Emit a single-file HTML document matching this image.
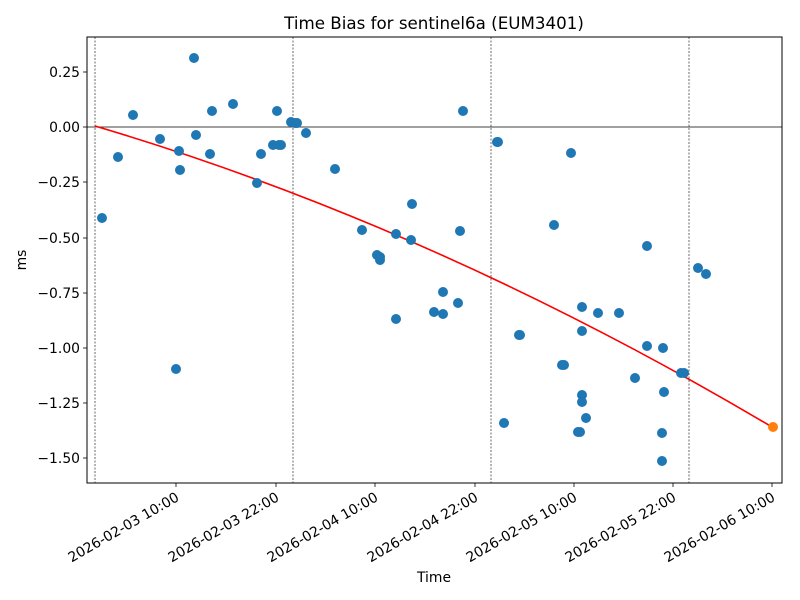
<!DOCTYPE html>
<html><head><meta charset="utf-8"><style>body{margin:0;background:#fff}svg{display:block;font-family:"DejaVu Sans","Liberation Sans",sans-serif}</style></head>
<body>
<svg width="800" height="600" viewBox="0 0 800 600" xmlns="http://www.w3.org/2000/svg">
<rect width="800" height="600" fill="#fff"/>
<text x="434" y="29" font-size="16.7" text-anchor="middle">Time Bias for sentinel6a (EUM3401)</text>
<g stroke="#444" stroke-width="0.8" stroke-dasharray="2,1.5">
<line x1="95" y1="37" x2="95" y2="483"/><line x1="293" y1="37" x2="293" y2="483"/><line x1="491" y1="37" x2="491" y2="483"/><line x1="689" y1="37" x2="689" y2="483"/>
</g>
<line x1="87" y1="127" x2="782" y2="127" stroke="#000" stroke-width="0.8"/>
<path fill="none" stroke="#f00" stroke-width="1.6" d="M95,126 Q433,226 772,427"/>
<g fill="#1f77b4">
<circle cx="102" cy="218" r="5"/><circle cx="118" cy="157" r="5"/><circle cx="133" cy="115" r="5"/><circle cx="160" cy="139" r="5"/><circle cx="176" cy="369" r="5"/><circle cx="179" cy="151" r="5"/><circle cx="180" cy="170" r="5"/><circle cx="194" cy="58" r="5"/><circle cx="196" cy="135" r="5"/><circle cx="210" cy="154" r="5"/><circle cx="212" cy="111" r="5"/><circle cx="233" cy="104" r="5"/><circle cx="257" cy="183" r="5"/><circle cx="261" cy="154" r="5"/><circle cx="273" cy="145" r="5"/><circle cx="277" cy="111" r="5"/><circle cx="279" cy="145" r="5"/><circle cx="281" cy="145" r="5"/><circle cx="291" cy="122" r="5"/><circle cx="295" cy="123" r="5"/><circle cx="297" cy="123" r="5"/><circle cx="306" cy="133" r="5"/><circle cx="335" cy="169" r="5"/><circle cx="362" cy="230" r="5"/><circle cx="377" cy="255" r="5"/><circle cx="380" cy="257" r="5"/><circle cx="380" cy="260" r="5"/><circle cx="396" cy="319" r="5"/><circle cx="396" cy="234" r="5"/><circle cx="411" cy="240" r="5"/><circle cx="412" cy="204" r="5"/><circle cx="434" cy="312" r="5"/><circle cx="443" cy="292" r="5"/><circle cx="443" cy="314" r="5"/><circle cx="458" cy="303" r="5"/><circle cx="460" cy="231" r="5"/><circle cx="463" cy="111" r="5"/><circle cx="497" cy="142" r="5"/><circle cx="498" cy="142" r="5"/><circle cx="504" cy="423" r="5"/><circle cx="519" cy="335" r="5"/><circle cx="520" cy="335" r="5"/><circle cx="554" cy="225" r="5"/><circle cx="562" cy="365" r="5"/><circle cx="564" cy="365" r="5"/><circle cx="571" cy="153" r="5"/><circle cx="578" cy="432" r="5"/><circle cx="580" cy="432" r="5"/><circle cx="582" cy="307" r="5"/><circle cx="582" cy="331" r="5"/><circle cx="582" cy="395" r="5"/><circle cx="582" cy="402" r="5"/><circle cx="586" cy="418" r="5"/><circle cx="598" cy="313" r="5"/><circle cx="619" cy="313" r="5"/><circle cx="635" cy="378" r="5"/><circle cx="647" cy="246" r="5"/><circle cx="647" cy="346" r="5"/><circle cx="662" cy="433" r="5"/><circle cx="662" cy="461" r="5"/><circle cx="663" cy="348" r="5"/><circle cx="664" cy="392" r="5"/><circle cx="681" cy="373" r="5"/><circle cx="684" cy="373" r="5"/><circle cx="698" cy="268" r="5"/><circle cx="706" cy="274" r="5"/>
</g>
<circle cx="773" cy="427" r="5" fill="#ff7f0e"/>
<rect x="87" y="37" width="695" height="446" fill="none" stroke="#000" stroke-width="1"/>
<g stroke="#000" stroke-width="0.8">
<line x1="83" y1="72" x2="87" y2="72"/><line x1="83" y1="127" x2="87" y2="127"/><line x1="83" y1="182" x2="87" y2="182"/><line x1="83" y1="238" x2="87" y2="238"/><line x1="83" y1="293" x2="87" y2="293"/><line x1="83" y1="348" x2="87" y2="348"/><line x1="83" y1="403" x2="87" y2="403"/><line x1="83" y1="458" x2="87" y2="458"/>
<line x1="176" y1="483" x2="176" y2="487"/><line x1="276" y1="483" x2="276" y2="487"/><line x1="375" y1="483" x2="375" y2="487"/><line x1="475" y1="483" x2="475" y2="487"/><line x1="574" y1="483" x2="574" y2="487"/><line x1="673" y1="483" x2="673" y2="487"/><line x1="772" y1="483" x2="772" y2="487"/>
</g>
<g font-size="13.9" text-anchor="end">
<text x="80" y="77">0.25</text><text x="80" y="132">0.00</text><text x="80" y="187">−0.25</text><text x="80" y="243">−0.50</text><text x="80" y="298">−0.75</text><text x="80" y="353">−1.00</text><text x="80" y="408">−1.25</text><text x="80" y="463">−1.50</text>
</g>
<g font-size="13.9" text-anchor="end">
<text transform="translate(180,500) rotate(-30)">2026-02-03 10:00</text>
<text transform="translate(280,500) rotate(-30)">2026-02-03 22:00</text>
<text transform="translate(379,500) rotate(-30)">2026-02-04 10:00</text>
<text transform="translate(479,500) rotate(-30)">2026-02-04 22:00</text>
<text transform="translate(578,500) rotate(-30)">2026-02-05 10:00</text>
<text transform="translate(677,500) rotate(-30)">2026-02-05 22:00</text>
<text transform="translate(776,500) rotate(-30)">2026-02-06 10:00</text>
</g>
<text x="434" y="582" font-size="13.9" text-anchor="middle">Time</text>
<text transform="translate(26,260) rotate(-90)" font-size="13.9" text-anchor="middle">ms</text>
</svg>
</body></html>
